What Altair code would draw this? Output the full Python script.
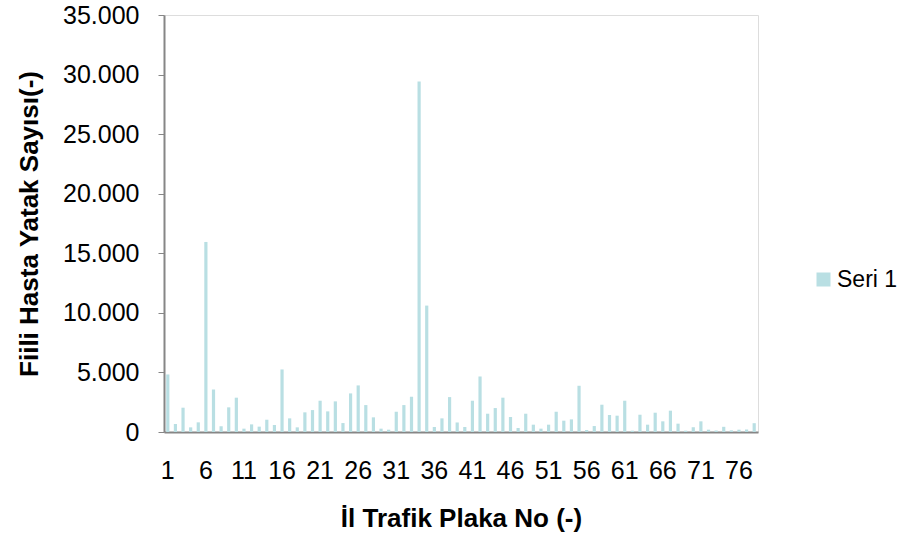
import altair as alt
import pandas as pd

plates = list(range(1, 79))
beds = [4830, 670, 2040, 390, 810, 15950, 3575, 475, 2070, 2880,
        280, 640, 450, 1030, 590, 5250, 1145, 390, 1650, 1840,
        2625, 1730, 2570, 750, 3240, 3910, 2260, 1230, 280, 195,
        1700, 2260, 2960, 29420, 10610, 420, 1145, 2930, 800, 420,
        2625, 4660, 1535, 2010, 2880, 1260, 335, 1535, 615, 280,
        615, 1700, 950, 1060, 3880, 170, 500, 2290, 1425, 1370,
        2625, 110, 1450, 615, 1620, 895, 1790, 700, 110, 400,
        895, 195, 125, 435, 140, 195, 210, 740]
series_name = "Seri 1"
x_tick_labels = [1, 6, 11, 16, 21, 26, 31, 36, 41, 46, 51, 56, 61, 66, 71, 76]
y_ticks = [0, 5000, 10000, 15000, 20000, 25000, 30000, 35000]

df = pd.DataFrame({"plate": plates, "beds": beds, "series": series_name})

FONT = "Liberation Sans"
BAR_COLOR = "#B9DFE3"
AXIS_COLOR = "#868686"

chart = alt.Chart(df).mark_bar(color=BAR_COLOR).encode(
    x=alt.X(
        "plate:O",
        scale=alt.Scale(paddingInner=0.58, paddingOuter=0.29),
        axis=alt.Axis(
            title="İl Trafik Plaka No (-)",
            values=x_tick_labels,
            labelAngle=0,
            ticks=False,
            labelPadding=26,
            labelFontSize=25,
            labelFont=FONT,
            labelColor="#000000",
            titleFont=FONT,
            titleFontSize=26,
            titleFontWeight="bold",
            titleColor="#000000",
            titlePadding=22,
            domainColor=AXIS_COLOR,
            domainWidth=2,
        ),
    ),
    y=alt.Y(
        "beds:Q",
        scale=alt.Scale(domain=[0, 35000], nice=False),
        axis=alt.Axis(
            title="Fiili Hasta Yatak Sayısı(-)",
            values=y_ticks,
            grid=False,
            labelExpr="replace(format(datum.value, ','), ',', '.')",
            labelFontSize=25,
            labelFont=FONT,
            labelColor="#000000",
            labelPadding=19,
            tickSize=6,
            tickColor=AXIS_COLOR,
            domainColor=AXIS_COLOR,
            domainWidth=2,
            titleFont=FONT,
            titleFontSize=26,
            titleFontWeight="bold",
            titleColor="#000000",
            titlePadding=20,
        ),
    ),
    color=alt.Color(
        "series:N",
        scale=alt.Scale(domain=[series_name], range=[BAR_COLOR]),
        legend=alt.Legend(
            title=None,
            orient="none",
            legendX=648,
            legendY=253,
            symbolType="square",
            symbolSize=196,
            symbolStrokeWidth=0,
            labelOffset=2,
            labelFontSize=23,
            labelFont=FONT,
            labelColor="#000000",
            labelLimit=300,
        ),
    ),
).properties(
    width=594,
    height=417,
    padding={"left": 164, "top": 15, "right": 143, "bottom": 109},
    autosize=alt.AutoSizeParams(type="none"),
).configure_view(stroke=None).configure(background="#ffffff")

chart.save("out.html", embed_options={"renderer": "svg", "actions": False})
